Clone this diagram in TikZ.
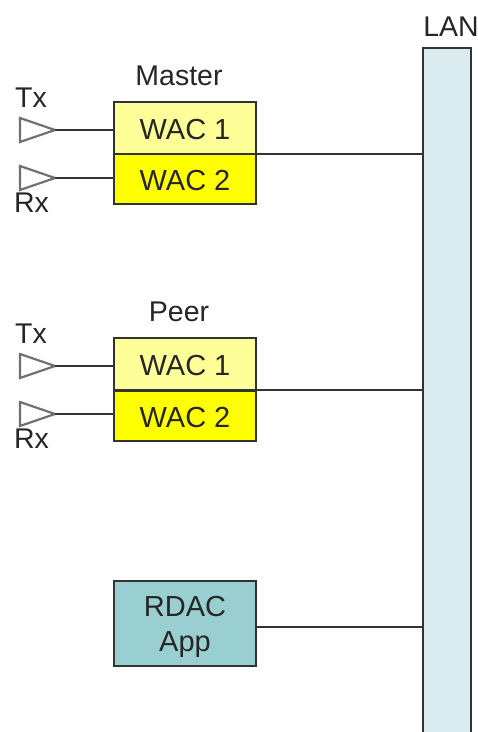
\documentclass[tikz,border=0pt]{standalone}
\usepackage{fontspec}
\setmainfont{Liberation Sans}
\definecolor{txtc}{HTML}{262626}
\definecolor{linec}{HTML}{333333}
\definecolor{trig}{HTML}{707070}
\definecolor{wacone}{HTML}{FFFF99}
\definecolor{wactwo}{HTML}{FFFF00}
\definecolor{rdacc}{HTML}{99CFD1}
\definecolor{lanc}{HTML}{DAECEF}
\newcommand{\lowtxt}{\rule{0pt}{24pt}}
\newcommand{\lowrd}{\rule{0pt}{27pt}}
\tikzset{
  lbl/.style={text=txtc,font=\fontsize{28.5}{34}\selectfont,inner sep=0pt,align=center},
  boxb/.style={draw=linec,line width=1.8pt,minimum width=142pt,inner sep=0pt,text=txtc,font=\fontsize{29}{35}\selectfont,align=center},
  wone/.style={boxb,fill=wacone,minimum height=52pt},
  wtwo/.style={boxb,fill=wactwo,minimum height=50pt},
  conn/.style={draw=linec,line width=1.8pt},
  tri/.style={draw=trig,line width=2.2pt,fill=white,line join=miter}
}
\begin{document}
\begin{tikzpicture}[x=1pt,y=-1pt]
\useasboundingbox (0,0) rectangle (478,732);
% LAN bar
\fill[lanc] (423,48) rectangle (471,733);
\draw[draw=linec,line width=1.8pt] (423,733) -- (423,48) -- (471,48) -- (471,733);
\node[inner sep=0pt,minimum width=48pt,minimum height=684pt,anchor=north west] (lan) at (423,48) {};
\node[lbl] (lanl) at (451,26.5) {LAN};
% Master
\node[lbl] (mast) at (179,76) {Master};
\node[wone] (m1) at (185,128) {\lowtxt WAC 1};
\node[wtwo] (m2) at (185,179) {\lowtxt WAC 2};
\coordinate (mt) at (55,130);
\coordinate (mr) at (55,178);
\draw[tri] (20,118) -- (mt) -- (20,142) -- cycle;
\draw[tri] (20,166) -- (mr) -- (20,190) -- cycle;
\draw[conn] (mt) -- (m1.west |- mt);
\draw[conn] (mr) -- (m2.west |- mr);
\node[lbl] (mtx) at (31,98) {Tx};
\node[lbl] (mrx) at (31.5,203) {Rx};
\coordinate (mo) at (256,154);
\draw[conn] (mo) -- (lan.west |- mo);
% Peer
\node[lbl] (peer) at (179,312) {Peer};
\node[wone] (p1) at (185,364) {\lowtxt WAC 1};
\node[wtwo] (p2) at (185,416) {\lowtxt WAC 2};
\coordinate (pt) at (55,366);
\coordinate (pr) at (55,414);
\draw[tri] (20,354) -- (pt) -- (20,378) -- cycle;
\draw[tri] (20,402) -- (pr) -- (20,426) -- cycle;
\draw[conn] (pt) -- (p1.west |- pt);
\draw[conn] (pr) -- (p2.west |- pr);
\node[lbl] (ptx) at (31,334) {Tx};
\node[lbl] (prx) at (31.5,439) {Rx};
\coordinate (po) at (256,390);
\draw[conn] (po) -- (lan.west |- po);
% RDAC
\node[boxb,fill=rdacc,minimum height=85pt] (rd) at (185,623.5) {\lowrd RDAC\\App};
\coordinate (rdo) at (256,627);
\draw[conn] (rdo) -- (lan.west |- rdo);
\end{tikzpicture}
\end{document}
